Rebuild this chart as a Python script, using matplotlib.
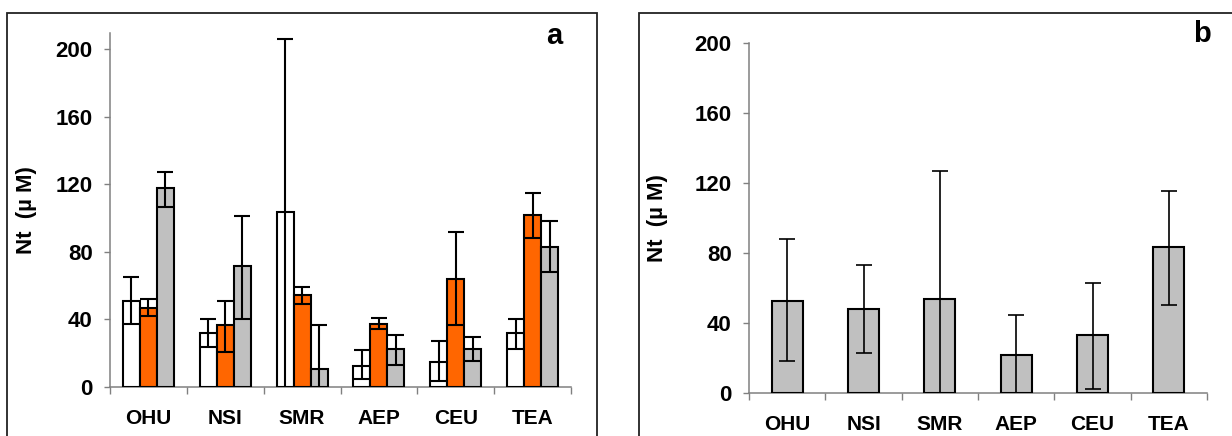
import matplotlib
matplotlib.use("Agg")
import matplotlib.pyplot as plt
import numpy as np
from matplotlib.patches import Rectangle

plt.rcParams['font.family'] = ['Liberation Sans', 'DejaVu Sans']
plt.rcParams['font.weight'] = 'bold'

categories = ["OHU", "NSI", "SMR", "AEP", "CEU", "TEA"]

# Panel a: three series (white, orange, gray), means and error-bar ends
a_white = [51, 32, 103.5, 12.5, 15, 32]
a_white_hi = [65, 40, 206, 22, 27, 40]
a_white_lo = [37, 23.5, -20, 4.5, 3.5, 22.5]

a_orange = [47, 36.5, 54.5, 37.5, 64, 102]
a_orange_hi = [52, 51, 59, 41, 91.5, 115]
a_orange_lo = [42, 21, 49, 34.5, 36.5, 88]

a_gray = [117.5, 71.5, 10.5, 22.5, 22.5, 83]
a_gray_hi = [127, 101, 36.5, 30.5, 29.5, 98.5]
a_gray_lo = [106.5, 40, -20, 13, 15.5, 68]

# Panel b: single series
b_vals = [52.5, 48, 54, 21.5, 33, 83.5]
b_hi = [88, 73, 127, 44.5, 63, 115.5]
b_lo = [18.5, 23, -20, -20, 2.5, 50.5]

yticks = [0, 40, 80, 120, 160, 200]

W, H = 1232, 436
fig = plt.figure(figsize=(W / 100, H / 100), dpi=100)

# Chart-area borders
fig.patches.append(Rectangle((7 / W, -0.05), (597 - 7) / W, 1 - 12.7 / H + 0.05,
                             transform=fig.transFigure, fill=False,
                             edgecolor='#222222', linewidth=1.3))
fig.patches.append(Rectangle((639 / W, -0.05), (1240 - 639) / W, 1 - 12.7 / H + 0.05,
                             transform=fig.transFigure, fill=False,
                             edgecolor='#222222', linewidth=1.3))

axis_gray = '#808080'


def style_axes(ax, ymax):
    x = np.arange(len(categories))
    ax.set_xlim(-0.5, len(categories) - 0.5)
    ax.set_ylim(0, ymax)
    for s in ['top', 'right']:
        ax.spines[s].set_visible(False)
    for s in ['left', 'bottom']:
        ax.spines[s].set_color(axis_gray)
        ax.spines[s].set_linewidth(1.1)
    ax.set_yticks(yticks)
    ax.set_yticklabels([str(v) for v in yticks])
    ax.tick_params(axis='y', direction='out', length=4.5, width=1.0,
                   color=axis_gray, pad=8, labelsize=16)
    ax.set_xticks(x)
    ax.set_xticklabels(categories)
    ax.tick_params(axis='x', which='major', length=0, pad=16, labelsize=15)
    ax.set_xticks(np.arange(len(categories) + 1) - 0.5, minor=True)
    ax.tick_params(axis='x', which='minor', direction='out', length=5,
                   width=1.0, color=axis_gray)
    ax.patch.set_alpha(0)


# Panel a
axa = fig.add_axes([110 / W, 1 - 387 / H, 461 / W, (387 - 33) / H])
x = np.arange(len(categories))
bw = 0.221
series_a = [
    (a_white, a_white_hi, a_white_lo, 'white', -bw),
    (a_orange, a_orange_hi, a_orange_lo, '#FF6600', 0.0),
    (a_gray, a_gray_hi, a_gray_lo, '#C0C0C0', bw),
]
for vals, hi, lo, col, off in series_a:
    v = np.array(vals)
    axa.bar(x + off, v, width=bw, color=col, edgecolor='black',
            linewidth=1.5, zorder=3)
    yerr = np.vstack([v - np.array(lo), np.array(hi) - v])
    axa.errorbar(x + off, v, yerr=yerr, fmt='none', ecolor='black',
                 elinewidth=1.5, capsize=5.5, capthick=1.5, zorder=4)
style_axes(axa, 209.5)
axa.set_ylabel("Nt  (µ M)", fontsize=16, fontweight='bold')
axa.yaxis.set_label_coords(-0.158, 0.5)
fig.text(554 / W, 1 - 36 / H, "a", fontsize=21, fontweight='bold',
         ha='center', va='center')

# Panel b
axb = fig.add_axes([749 / W, 1 - 393 / H, 458 / W, (393 - 43.3) / H])
bw2 = 0.41
v = np.array(b_vals)
axb.bar(x, v, width=bw2, color='#C0C0C0', edgecolor='black',
        linewidth=1.5, zorder=3)
yerr = np.vstack([v - np.array(b_lo), np.array(b_hi) - v])
axb.errorbar(x, v, yerr=yerr, fmt='none', ecolor='black',
             elinewidth=1.2, capsize=5.5, capthick=1.2, zorder=4)
style_axes(axb, 200)
axb.set_ylabel("Nt  (µ M)", fontsize=16, fontweight='bold')
axb.yaxis.set_label_coords(-0.176, 0.5)
fig.text(1202 / W, 1 - 34 / H, "b", fontsize=21, fontweight='bold',
         ha='center', va='center')

fig.savefig("out.png", dpi=100)
